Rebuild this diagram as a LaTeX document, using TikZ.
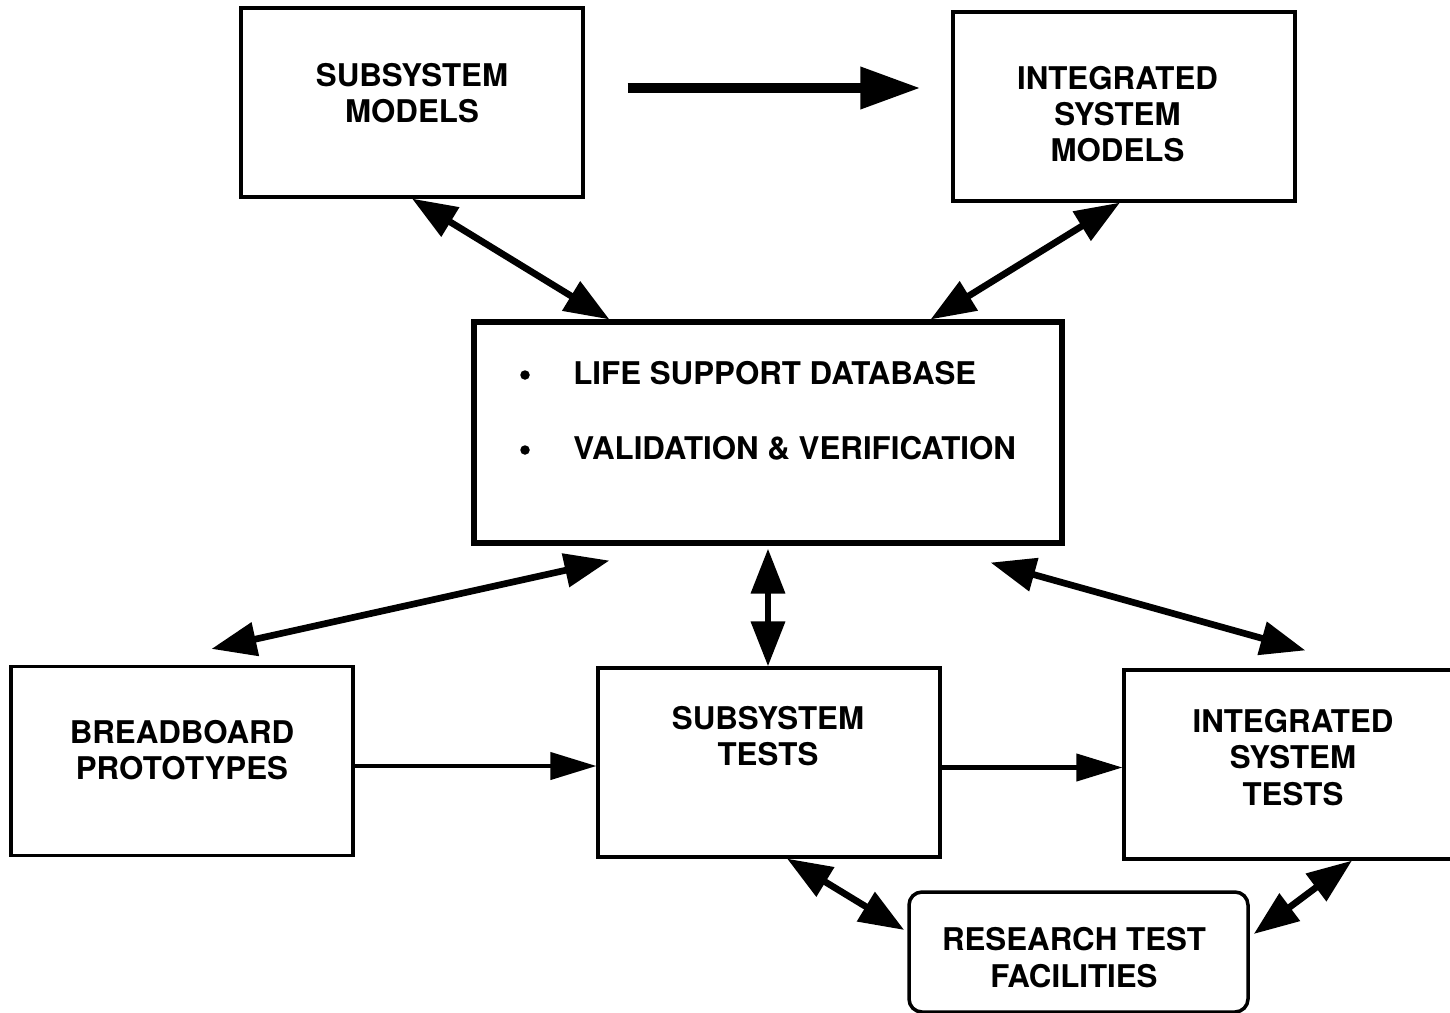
\documentclass[tikz,border=0pt]{standalone}
\usepackage{fontspec}
\setmainfont{TeX Gyre Heros}
\usepackage{tikz}
\usetikzlibrary{shapes,arrows.meta,calc}
\tikzset{
  blk/.style={ draw, line width=1.8pt, rectangle, minimum width=6.84cm, minimum height=3.78cm }
}
\tikzset{
  dbbox/.style={ draw, line width=2.9pt, rectangle, minimum width=11.76cm, minimum height=4.42cm }
}
\tikzset{
  rbox/.style={ draw, line width=2pt, rectangle, rounded corners=0.26cm, minimum width=6.78cm, minimum height=2.4cm }
}
\tikzset{
  txt/.style={ align=center, font=\fontsize{17.8}{20.6}\selectfont\bfseries, inner sep=0pt }
}
\tikzset{
  dot/.style={ circle, fill, inner sep=0pt, minimum size=0.19cm }
}
\tikzset{
  bigarr/.style={ line width=0.2cm, -{Triangle[length=1.2cm,width=0.8cm]} }
}
\tikzset{
  dblarr/.style={ line width=3.8pt, {Triangle[length=0.9cm,width=0.66cm]}-{Triangle[length=0.9cm,width=0.66cm]} }
}
\tikzset{
  onearr/.style={ line width=2.3pt, -{Triangle[length=0.92cm,width=0.54cm]} }
}
\begin{document}
\begin{tikzpicture}
      \useasboundingbox (0,0) rectangle (29,-20.26);
      \node[blk] (smod) at (8.24, -2.05) {};
      \node[blk] (imod) at (22.48, -2.13) {};
      \node[dbbox] (lsdb) at (15.36, -8.65) {};
      \node[blk] (bread) at (3.64, -15.22) {};
      \node[blk] (stest) at (15.38, -15.25) {};
      \node[blk, minimum width=6.72cm] (itest) at (25.84, -15.29) {};
      \node[rbox] (rtf) at (21.57, -19.04) {};

      \node[txt] (smodtxt) at (8.24, -1.86) {SUBSYSTEM\\MODELS};
      \node[txt] (imodtxt) at (22.35, -2.28) {INTEGRATED\\SYSTEM\\MODELS};
      \node[dot] (dot1) at (10.5, -7.5) {};
      \node[txt, anchor=west] (item1) at (11.46, -7.46) {LIFE SUPPORT DATABASE};
      \node[dot] (dot2) at (10.5, -9.0) {};
      \node[txt, anchor=west] (item2) at (11.46, -8.96) {VALIDATION \& VERIFICATION};
      \node[txt] (breadtxt) at (3.64, -15.0) {BREADBOARD\\PROTOTYPES};
      \node[txt] (stesttxt) at (15.36, -14.72) {SUBSYSTEM\\TESTS};
      \node[txt] (itesttxt) at (25.86, -15.15) {INTEGRATED\\SYSTEM\\TESTS};
      \node[txt] (rtftxt) at (21.48, -19.15) {RESEARCH TEST\\FACILITIES};

      \draw[bigarr] ($(smod.east)+(0.86,0.29)$) -- ($(imod.west |- smod.east)+(-0.62,0.29)$);
      \draw[dblarr] (smod.south) -- ([xshift=2.76cm]lsdb.north west);
      \draw[dblarr] ([xshift=-0.08cm]imod.south) -- ([xshift=-2.68cm]lsdb.north east);
      \draw[dblarr] ([shift={(2.76,-0.3)}]lsdb.south west) -- ([shift={(4.04,0.32)}]bread.north west);
      \draw[dblarr] ([yshift=-0.06cm]lsdb.south) -- (lsdb.south |- stest.north);
      \draw[dblarr] ([shift={(-1.48,-0.34)}]lsdb.south east) -- ([shift={(3.66,0.36)}]itest.north west);
      \draw[onearr] ([yshift=-0.1cm]bread.east) -- ([yshift=-0.1cm]bread.east -| stest.west);
      \draw[onearr] ([yshift=-0.1cm]stest.east) -- ([yshift=-0.1cm]stest.east -| itest.west);
      \draw[dblarr] ([xshift=0.36cm]stest.south) -- ([shift={(-0.06,0.44)}]rtf.west);
      \draw[dblarr] ([xshift=1.2cm]itest.south) -- ([shift={(0.08,0.36)}]rtf.east);
    \end{tikzpicture}
\end{document}
